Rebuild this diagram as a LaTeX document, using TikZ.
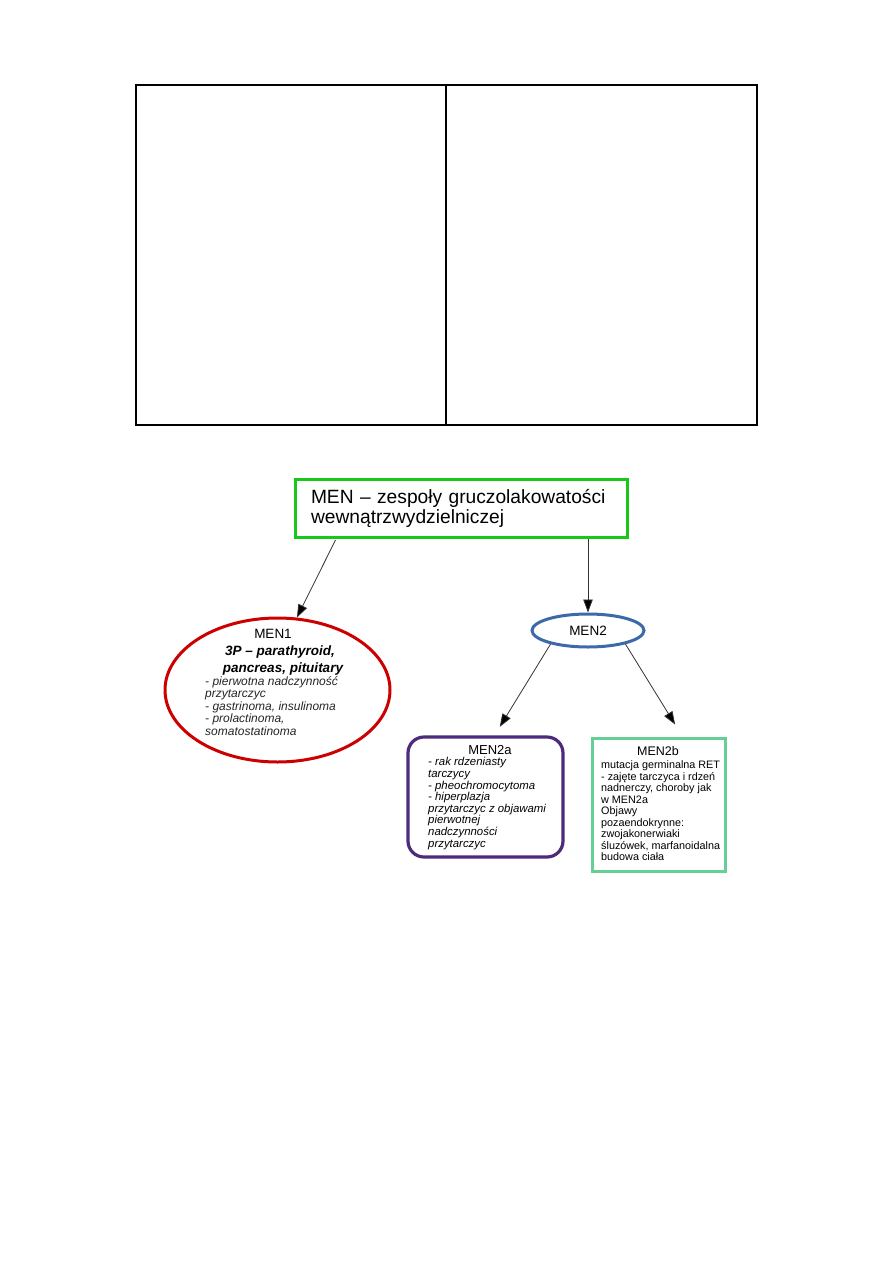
\documentclass[tikz,border=0pt]{standalone}
\usepackage{fontspec}
\setmainfont{Liberation Sans}
\usetikzlibrary{arrows.meta,shapes.geometric,calc}
\definecolor{titlegreen}{RGB}{24,200,24}
\definecolor{menred}{RGB}{204,0,0}
\definecolor{menblue}{RGB}{60,105,170}
\definecolor{menpurple}{RGB}{78,42,122}
\definecolor{menteal}{RGB}{100,208,150}
\tikzset{
  arr/.style={line width=0.8pt, draw=black!80, -{Triangle[length=13pt,width=9.5pt,fill=black]}},
  tableline/.style={line width=1.2pt, draw=black},
  listtext/.style={anchor=north west, inner sep=0pt, align=left},
  headtext/.style={anchor=base, inner sep=0pt},
}
\begin{document}
\begin{tikzpicture}[x=1pt,y=-1pt]
\useasboundingbox[fill=white] (0,0) rectangle (893,1263);

% empty table at the top
\coordinate (tl) at (136,85);
\coordinate (br) at (757,425);
\coordinate (mt) at (446,85);
\coordinate (mb) at (446,425);
\draw[tableline] (tl) rectangle (br);
\draw[tableline] (mt) -- (mb);

% title
\node[draw=titlegreen, line width=3pt, text width=300pt, inner xsep=16pt, inner ysep=0pt,
      minimum height=58pt, align=left, font=\fontsize{19.2}{20}\selectfont]
  (title) at (461,508) {MEN – zespoły gruczolakowatości\\wewnątrzwydzielniczej};

% MEN1
\node[draw=menred, line width=3pt, ellipse, minimum width=225pt, minimum height=144pt, inner sep=0pt]
  (men1) at (277.5,690) {};
\node[headtext, font=\fontsize{13.5}{14}\selectfont] (men1h) at (273,638) {MEN1};
\node[headtext, font=\fontsize{13.5}{14}\selectfont\bfseries\itshape] (men1a) at (280,655) {3P – parathyroid,};
\node[headtext, font=\fontsize{13.5}{14}\selectfont\bfseries\itshape] (men1b) at (283,672) {pancreas, pituitary};
\node[listtext, font=\fontsize{12}{12.6}\selectfont\itshape, text=black!85] (men1l) at (205,676)
  {- pierwotna nadczynność\\przytarczyc\\- gastrinoma, insulinoma\\- prolactinoma,\\somatostatinoma};

% MEN2
\node[draw=menblue, line width=3pt, ellipse, minimum width=112pt, minimum height=33pt, inner sep=0pt,
      font=\fontsize{13.5}{14}\selectfont]
  (men2) at (588,630.5) {MEN2};

% MEN2a
\node[draw=menpurple, line width=3.2pt, rounded corners=16pt, minimum width=155pt, minimum height=120pt, inner sep=0pt]
  (men2a) at (485.5,797) {};
\node[headtext, font=\fontsize{13}{14}\selectfont] (men2ah) at (490,754) {MEN2a};
\node[listtext, font=\fontsize{11.4}{11.6}\selectfont\itshape] (men2al) at (428,757.5)
  {- rak rdzeniasty\\tarczycy\\- pheochromocytoma\\- hiperplazja\\przytarczyc z objawami\\pierwotnej\\nadczynności\\przytarczyc};

% MEN2b
\node[draw=menteal, line width=3pt, minimum width=133pt, minimum height=133pt, inner sep=0pt]
  (men2b) at (658.5,804.5) {};
\node[headtext, font=\fontsize{12.5}{14}\selectfont] (men2bh) at (658,755) {MEN2b};
\node[listtext, font=\fontsize{10.8}{11.5}\selectfont] (men2bl) at (601,760.5)
  {mutacja germinalna RET\\- zajęte tarczyca i rdzeń\\nadnerczy, choroby jak\\w MEN2a\\Objawy\\pozaendokrynne:\\zwojakonerwiaki\\śluzówek, marfanoidalna\\budowa ciała};

% connectors
\draw[arr] ($(title.south west)+(42,1.5)$) -- (men1.75);
\draw[arr] (men2.north |- title.south) -- (men2.north);
\draw[arr, shorten >=10pt] (men2.200) -- ($(men2a.north)+(9,0)$);
\draw[arr, shorten >=14pt] (men2.340) -- ($(men2b.north)+(24,0)$);
\end{tikzpicture}
\end{document}
